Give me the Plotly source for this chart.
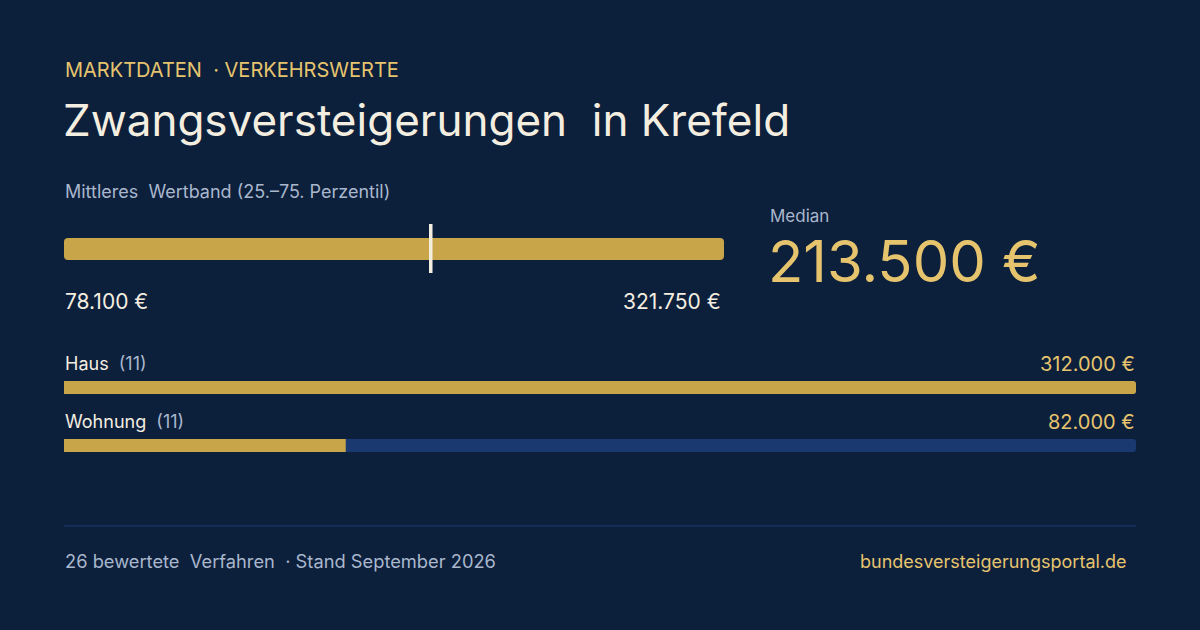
import plotly.graph_objects as go

# Daten
stadt = "Krefeld"
band_p25 = 78100
band_p75 = 321750
median_wert = 213500
kategorien = ["Haus", "Wohnung"]
anzahl = [11, 11]
kategorie_median = [312000, 82000]
verfahren = 26
stand = "September 2026"

# Farben
BG = "#0c1f3b"
GOLD = "#c9a54a"
GOLD_TEXT = "#e6c46e"
CREAM = "#f4eee0"
MUTED = "#a9b7cd"
TRACK = "#1a3970"
LINE = "#1c3d74"
FONT = "Inter"

W, H = 1200, 630


def px_x(x):
    return x / W


def px_y(y):
    return 1 - y / H


def euro(v):
    return f"{v:,}".replace(",", ".") + " €"


fig = go.Figure()

# Wertband (25.-75. Perzentil)
fig.add_trace(go.Bar(
    x=[band_p75 - band_p25], base=[band_p25], y=[25], width=[22],
    orientation="h", marker=dict(color=GOLD, cornerradius=4, line_width=0),
    xaxis="x", yaxis="y", hoverinfo="skip", showlegend=False,
))
fig.add_trace(go.Scatter(
    x=[median_wert, median_wert], y=[1, 50], mode="lines",
    line=dict(color=CREAM, width=3.5), xaxis="x", yaxis="y",
    hoverinfo="skip", showlegend=False,
))

# Kategorien
max_wert = max(kategorie_median)
zeilen_y = [64.5, 6.5]
fig.add_trace(go.Bar(
    x=[max_wert] * len(kategorien), y=zeilen_y, width=13, orientation="h",
    marker=dict(color=TRACK, cornerradius=3, line_width=0),
    xaxis="x2", yaxis="y2", hoverinfo="skip", showlegend=False,
))
fig.add_trace(go.Bar(
    x=kategorie_median, y=zeilen_y, width=13, orientation="h",
    marker=dict(color=GOLD, cornerradius=3, line_width=0),
    xaxis="x2", yaxis="y2", hoverinfo="skip", showlegend=False,
))

ann = []


def text(x, y, t, size, color, anchor="left"):
    ann.append(dict(x=px_x(x), y=px_y(y), xref="paper", yref="paper", text=t,
                    showarrow=False, xanchor=anchor, yanchor="middle",
                    font=dict(family=FONT, size=size, color=color)))


text(63, 70, "MARKTDATEN  · VERKEHRSWERTE", 20, GOLD_TEXT)
text(61, 120, f"Zwangsversteigerungen  in {stadt}", 44, CREAM)
text(63, 191, "Mittleres  Wertband (25.–75. Perzentil)", 18, MUTED)
text(63, 301, euro(band_p25), 21, CREAM)
text(723, 301, euro(band_p75), 21, CREAM, "right")
text(768, 216, "Median", 17, MUTED)
text(766, 261, euro(median_wert), 58, GOLD_TEXT)

for name, n, wert, y in zip(kategorien, anzahl, kategorie_median, [364, 422]):
    ann.append(dict(x=px_x(63), y=px_y(y), xref="paper", yref="paper",
                    text=f"{name}  <span style='color:{MUTED}'>({n})</span>",
                    showarrow=False, xanchor="left", yanchor="middle",
                    font=dict(family=FONT, size=18, color=CREAM)))
    text(1137, y, euro(wert), 20, GOLD_TEXT, "right")

text(63, 561, f"{verfahren} bewertete  Verfahren  · Stand September {stand.split()[1]}", 18.3, MUTED)
text(1129, 561, "bundesversteigerungsportal.de", 18, GOLD_TEXT, "right")

axis_off = dict(showgrid=False, zeroline=False, showticklabels=False,
                showline=False, fixedrange=True)

fig.update_layout(
    width=W, height=H,
    margin=dict(l=0, r=0, t=0, b=0),
    paper_bgcolor=BG, plot_bgcolor=BG,
    barmode="overlay",
    xaxis=dict(domain=[px_x(64), px_x(724)], range=[band_p25, band_p75], anchor="y", **axis_off),
    yaxis=dict(domain=[px_y(274), px_y(223)], range=[0, 51], anchor="x", **axis_off),
    xaxis2=dict(domain=[px_x(64), px_x(1136)], range=[0, max_wert], anchor="y2", **axis_off),
    yaxis2=dict(domain=[px_y(452), px_y(381)], range=[0, 71], anchor="x2", **axis_off),
    annotations=ann,
    shapes=[dict(type="line", xref="paper", yref="paper",
                 x0=px_x(64), x1=px_x(1136), y0=px_y(526), y1=px_y(526),
                 line=dict(color=LINE, width=1))],
)

fig.write_html("out.html", config={"displayModeBar": False},
               post_script="document.body.style.margin='0';document.body.style.background='%s';" % BG)
